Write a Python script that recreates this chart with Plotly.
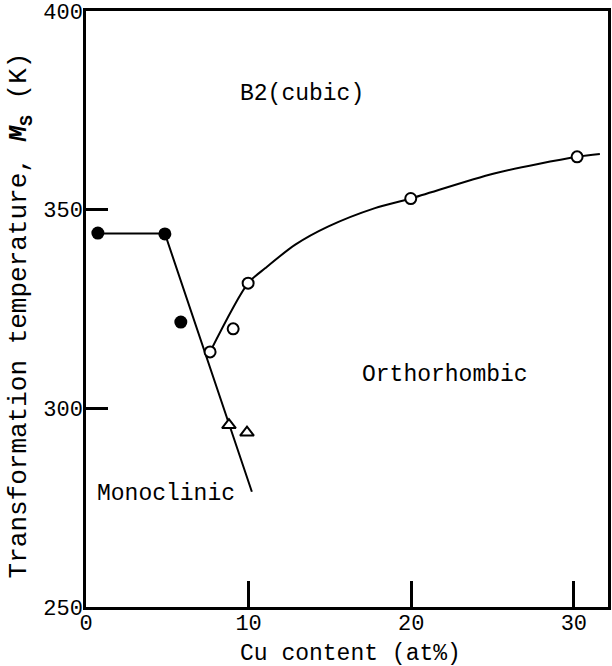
import plotly.graph_objects as go

# Data
filled_x = [0.73, 4.85, 5.83]
filled_y = [344.1, 343.9, 321.7]
open_x = [7.63, 9.05, 9.97, 19.97, 30.2]
open_y = [314.2, 320.0, 331.5, 352.8, 363.3]
tri_x = [8.79, 9.9]
tri_y = [295.8, 293.9]

# Phase boundary lines
mono_x = [0.73, 4.85, 10.2]
mono_y = [344.0, 344.0, 279.0]
ortho_x = [7.63, 9.97, 11.03, 12.87, 14.91, 17.77, 19.97, 25.1, 30.2, 31.6]
ortho_y = [314.2, 331.5, 335.3, 341.2, 345.8, 350.4, 352.8, 359.1, 363.3, 364.0]

x_ticks = [0, 10, 20, 30]
y_ticks = [250, 300, 350, 400]

FONT = "Liberation Mono"

fig = go.Figure()
fig.add_trace(go.Scatter(x=mono_x, y=mono_y, mode="lines",
                         line=dict(color="black", width=2), showlegend=False))
fig.add_trace(go.Scatter(x=ortho_x, y=ortho_y, mode="lines",
                         line=dict(color="black", width=2, shape="spline", smoothing=0.8),
                         showlegend=False))
fig.add_trace(go.Scatter(x=filled_x, y=filled_y, mode="markers",
                         marker=dict(symbol="circle", size=13, color="black"),
                         showlegend=False, cliponaxis=False))
fig.add_trace(go.Scatter(x=open_x, y=open_y, mode="markers",
                         marker=dict(symbol="circle", size=11, color="white",
                                     line=dict(color="black", width=2)),
                         showlegend=False))
fig.add_trace(go.Scatter(x=tri_x, y=tri_y, mode="markers",
                         marker=dict(symbol="triangle-up", size=12, color="white",
                                     line=dict(color="black", width=2)),
                         showlegend=False))

annot_font = dict(family=FONT, size=23, color="black")
fig.add_annotation(x=13.3, y=379.0, text="B2(cubic)", showarrow=False, font=annot_font,
                   xref="x", yref="y")
fig.add_annotation(x=22.1, y=308.5, text="Orthorhombic", showarrow=False, font=annot_font,
                   xref="x", yref="y")
fig.add_annotation(x=4.9, y=278.5, text="Monoclinic", showarrow=False, font=annot_font,
                   xref="x", yref="y")
fig.add_annotation(x=-0.126, y=0.045, xref="paper", yref="paper", xanchor="center",
                   yanchor="bottom",
                   text="Transformation temperature, <b><i>M</i></b><sub><b>S</b></sub> (K)",
                   textangle=-90, showarrow=False,
                   font=dict(family=FONT, size=26, color="black"))
fig.add_annotation(x=0.507, y=-0.079, xref="paper", yref="paper", xanchor="center",
                   yanchor="middle", text="Cu content (at%)", showarrow=False,
                   font=annot_font)

axis_common = dict(showgrid=False, zeroline=False, showline=True, linecolor="black",
                   linewidth=2.5, mirror=True, ticks="inside", tickcolor="black",
                   tickwidth=2.5, tickfont=dict(family=FONT, size=22, color="black"))

fig.update_xaxes(range=[0, 32.1], tickvals=x_ticks, ticktext=[str(v) for v in x_ticks],
                 ticklen=26, ticklabelstandoff=-6, **axis_common)
fig.update_yaxes(range=[250, 400], tickvals=y_ticks, ticktext=[str(v) for v in y_ticks],
                 ticklen=22, ticklabelstandoff=-4, **axis_common)

fig.update_layout(width=612, height=666, margin=dict(l=86, r=1, t=11, b=59),
                  plot_bgcolor="white", paper_bgcolor="white",
                  font=dict(family=FONT, color="black"))

fig.write_html("out.html", config={"displayModeBar": False},
               post_script="document.body.style.margin='0px';document.body.style.overflow='hidden';")
